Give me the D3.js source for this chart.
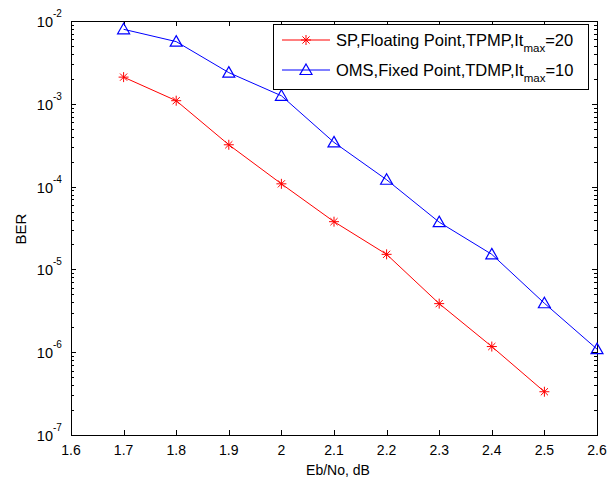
<!DOCTYPE html>
<html><head><meta charset="utf-8">
<script src="https://cdn.jsdelivr.net/npm/d3@7/dist/d3.min.js"></script>
<style>body{margin:0;background:#fff}svg{display:block}text{font-family:Arial,"Liberation Sans",sans-serif;fill:#000}</style>
</head><body><svg id="c" width="607" height="479"></svg>
<script>
const ebno = [1.7,1.8,1.9,2.0,2.1,2.2,2.3,2.4,2.5,2.6];
const berSP = [2.1e-3,1.09e-3,3.2e-4,1.08e-4,3.77e-5,1.52e-5,3.86e-6,1.17e-6,3.33e-7];
const berOMS = [7.94e-3,5.64e-3,2.38e-3,1.25e-3,3.42e-4,1.21e-4,3.72e-5,1.52e-5,3.9e-6,1.09e-6];
const xTicks = [1.6,1.7,1.8,1.9,2.0,2.1,2.2,2.3,2.4,2.5,2.6];
const yExps = [-2,-3,-4,-5,-6,-7];
const labelSP = ["SP,Floating Point,TPMP,It","max","=20"];
const labelOMS = ["OMS,Fixed Point,TDMP,It","max","=10"];

const svg = d3.select("#c");
const L=71, T=21, R=597, B=435;
const x = d3.scaleLinear().domain([1.6,2.6]).range([L,R]);
const y = d3.scaleLog().domain([1e-7,1e-2]).range([B,T]);

const minor=[];
for(let e=-7;e<-2;e++){for(let m=2;m<=9;m++)minor.push(m*Math.pow(10,e));}

const g = svg.append("g").attr("stroke","#000").attr("stroke-width",1).attr("shape-rendering","crispEdges");
g.append("rect").attr("x",L).attr("y",T).attr("width",R-L).attr("height",B-T).attr("fill","none");
xTicks.forEach(v=>{
  const px=Math.round(x(v))+0.5;
  g.append("line").attr("x1",px).attr("x2",px).attr("y1",B).attr("y2",B-5);
  g.append("line").attr("x1",px).attr("x2",px).attr("y1",T).attr("y2",T+5);
});
yExps.forEach(e=>{
  const py=Math.round(y(Math.pow(10,e)))+0.5;
  g.append("line").attr("x1",L).attr("x2",L+5).attr("y1",py).attr("y2",py);
  g.append("line").attr("x1",R).attr("x2",R-5).attr("y1",py).attr("y2",py);
});
minor.forEach(v=>{
  const py=Math.round(y(v))+0.5;
  g.append("line").attr("x1",L).attr("x2",L+3).attr("y1",py).attr("y2",py);
  g.append("line").attr("x1",R).attr("x2",R-3).attr("y1",py).attr("y2",py);
});

svg.append("g").selectAll("text").data(xTicks).join("text")
  .attr("x",d=>x(d)).attr("y",B+20).attr("text-anchor","middle").attr("font-size",14)
  .text(d=>String(+d.toFixed(1)));
yExps.forEach(e=>{
  const py=y(Math.pow(10,e));
  svg.append("text").attr("font-size",14.5).attr("y",py+6).attr("x",53).attr("text-anchor","end").text("10");
  svg.append("text").attr("font-size",10).attr("x",53).attr("y",py-4).text(String(e));
});

svg.append("text").attr("x",338).attr("y",475).attr("text-anchor","middle").attr("font-size",14).text("Eb/No, dB");
svg.append("text").attr("transform",`translate(25.5,229) rotate(-90)`).attr("text-anchor","middle").attr("font-size",15).text("BER");

const line = d3.line().x(d=>x(d[0])).y(d=>y(d[1]));
const spData = berSP.map((v,i)=>[ebno[i],v]);
const omsData = berOMS.map((v,i)=>[ebno[i],v]);

const plot = svg.append("g");
plot.append("path").attr("d",line(spData)).attr("fill","none").attr("stroke","#ff0000").attr("stroke-width",1);
plot.append("path").attr("d",line(omsData)).attr("fill","none").attr("stroke","#0000ff").attr("stroke-width",1);

function star(sel,cx,cy,r){
  const gg=sel.append("g").attr("stroke","#ff0000").attr("stroke-width",1);
  gg.append("line").attr("x1",cx-r).attr("x2",cx+r).attr("y1",cy).attr("y2",cy);
  gg.append("line").attr("x1",cx).attr("x2",cx).attr("y1",cy-r).attr("y2",cy+r);
  const d=r*0.72;
  gg.append("line").attr("x1",cx-d).attr("x2",cx+d).attr("y1",cy-d).attr("y2",cy+d);
  gg.append("line").attr("x1",cx-d).attr("x2",cx+d).attr("y1",cy+d).attr("y2",cy-d);
}
function tri(sel,cx,cy,r){
  sel.append("path").attr("d",`M${cx},${cy-r}L${cx+r},${cy+r*0.75}L${cx-r},${cy+r*0.75}Z`)
    .attr("fill","none").attr("stroke","#0000ff").attr("stroke-width",1.2);
}
spData.forEach(d=>star(plot,x(d[0]),y(d[1]),5));
omsData.forEach(d=>tri(plot,x(d[0]),y(d[1]),6));

const lg = svg.append("g");
lg.append("rect").attr("x",273.5).attr("y",24.5).attr("width",315).attr("height",65)
  .attr("fill","#fff").attr("stroke","#000").attr("stroke-width",1);
const rows=[{lab:labelSP,c:"#ff0000",yy:40,m:"s"},{lab:labelOMS,c:"#0000ff",yy:70,m:"t"}];
rows.forEach(r=>{
  lg.append("line").attr("x1",282).attr("x2",330).attr("y1",r.yy).attr("y2",r.yy).attr("stroke",r.c).attr("stroke-width",1);
  if(r.m==="s") star(lg,306,r.yy,5); else tri(lg,306,r.yy,6);
  const t=lg.append("text").attr("x",336).attr("y",r.yy+6).attr("font-size",16.5);
  t.append("tspan").text(r.lab[0]);
  t.append("tspan").attr("dy",6).attr("font-size",11.5).text(r.lab[1]);
  t.append("tspan").attr("dy",-6).text(r.lab[2]);
});
</script></body></html>
